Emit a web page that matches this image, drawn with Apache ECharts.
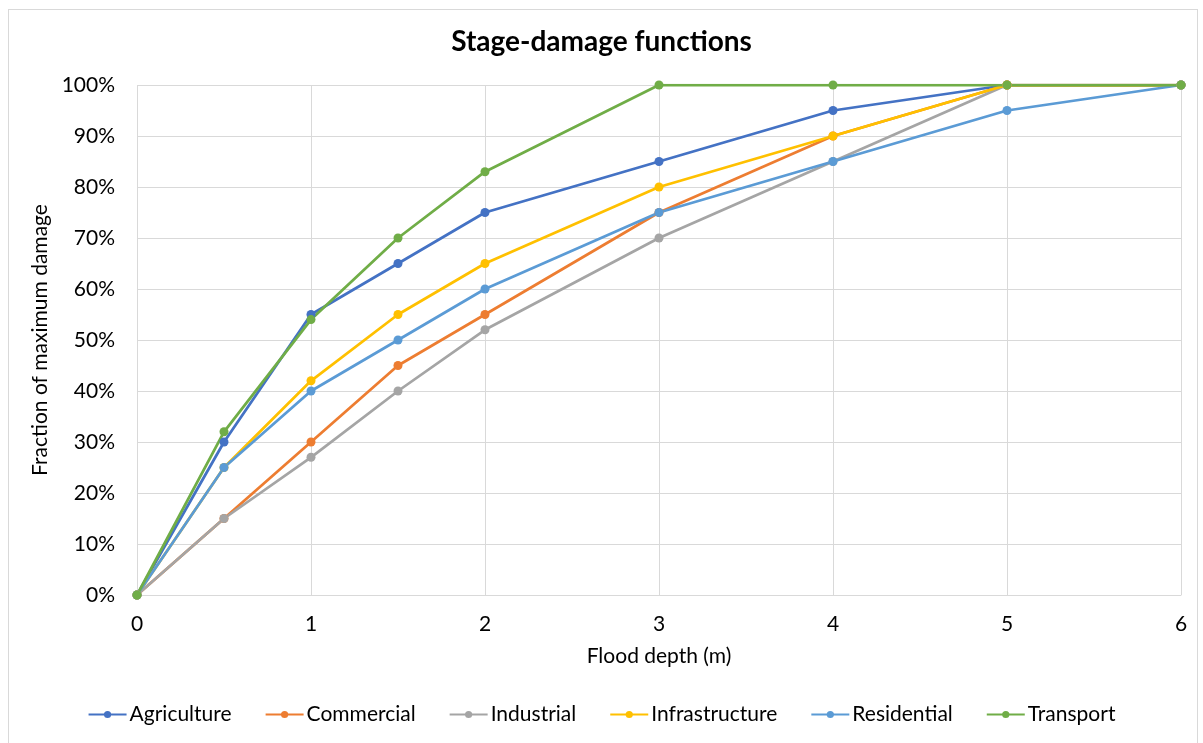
<!DOCTYPE html>
<html><head><meta charset="utf-8">
<script src="https://cdn.jsdelivr.net/npm/echarts@6/dist/echarts.min.js"></script>
<style>html,body{margin:0;padding:0;background:#fff}#c{width:1203px;height:743px}
#frame{position:absolute;left:8px;top:9px;width:1190px;height:740px;border:1px solid #d9d9d9;box-sizing:border-box;pointer-events:none}</style>
</head><body><div id="c"></div><div id="frame"></div>
<script>
const depths = [0, 0.5, 1, 1.5, 2, 3, 4, 5, 6];
const seriesNames = ['Agriculture', 'Commercial', 'Industrial', 'Infrastructure', 'Residential', 'Transport'];
const agriculture    = [0, 30, 55, 65, 75, 85, 95, 100, 100];
const commercial     = [0, 15, 30, 45, 55, 75, 90, 100, 100];
const industrial     = [0, 15, 27, 40, 52, 70, 85, 100, 100];
const infrastructure = [0, 25, 42, 55, 65, 80, 90, 100, 100];
const residential    = [0, 25, 40, 50, 60, 75, 85, 95, 100];
const transport      = [0, 32, 54, 70, 83, 100, 100, 100, 100];
const colors = ['#4472C4', '#ED7D31', '#A5A5A5', '#FFC000', '#5B9BD5', '#70AD47'];
const allValues = [agriculture, commercial, industrial, infrastructure, residential, transport];
const font = 'Lato, "Open Sans", sans-serif';

const chart = echarts.init(document.getElementById('c'));
chart.setOption({
  animation: false,
  title: { text: 'Stage-damage functions', left: 'center', top: 23,
    textStyle: { fontFamily: font, fontSize: 28, fontWeight: 'bold', color: '#000' } },
  grid: { left: 137, right: 22, top: 85, bottom: 148 },
  legend: { bottom: 13, left: 'center', itemWidth: 38, itemHeight: 9, itemGap: 33,
    data: seriesNames,
    textStyle: { fontFamily: font, fontSize: 21, color: '#000', padding: [0, 0, 0, -2] } },
  xAxis: { type: 'value', min: 0, max: 6, interval: 1,
    name: 'Flood depth (m)', nameLocation: 'middle', nameGap: 51,
    nameTextStyle: { fontFamily: font, fontSize: 21, color: '#000' },
    axisLine: { lineStyle: { color: '#d9d9d9' } }, axisTick: { show: false },
    axisLabel: { fontFamily: font, fontSize: 21, color: '#000', margin: 19 },
    splitLine: { lineStyle: { color: '#d9d9d9' } } },
  yAxis: { type: 'value', min: 0, max: 100, interval: 10,
    name: 'Fraction of maximum damage', nameLocation: 'middle', nameGap: 78,
    nameTextStyle: { fontFamily: font, fontSize: 21, color: '#000' },
    axisLine: { show: false }, axisTick: { show: false },
    axisLabel: { fontFamily: font, fontSize: 21, color: '#000', margin: 22, formatter: '{value}%' },
    splitLine: { lineStyle: { color: '#d9d9d9' } } },
  series: seriesNames.map((n, i) => ({
    name: n, type: 'line', color: colors[i],
    data: depths.map((d, j) => [d, allValues[i][j]]),
    symbol: 'circle', symbolSize: 9,
    lineStyle: { width: 2.75 }, itemStyle: { color: colors[i] }
  }))
});
</script></body></html>
